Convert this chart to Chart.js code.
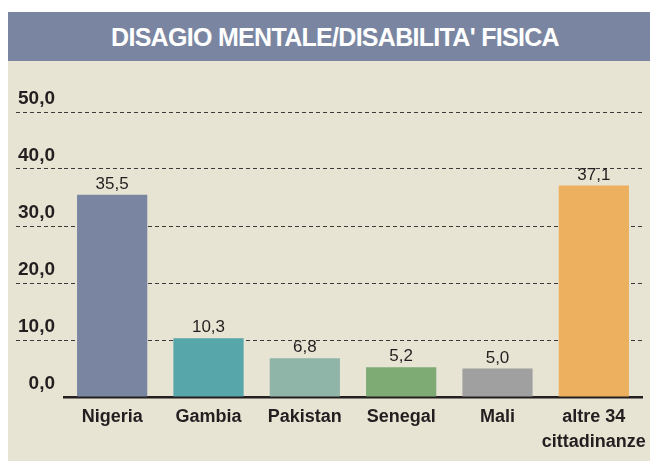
<!DOCTYPE html>
<html>
<head>
<meta charset="utf-8">
<script src="https://cdn.jsdelivr.net/npm/chart.js@4"></script>
<style>
  html, body { margin: 0; padding: 0; background: #ffffff; width: 650px; height: 461px; overflow: hidden; }
  #title {
    position: absolute; left: 8px; top: 12px; width: 642px; height: 49px;
    background: #7a86a1; color: #ffffff;
    font-family: "Liberation Sans", Arial, sans-serif; font-weight: bold; font-size: 25px;
    letter-spacing: -0.7px; line-height: 50px; text-align: center; box-sizing: border-box; padding-left: 12px;
  }
  #panel { position: absolute; left: 8px; top: 61px; width: 642px; height: 400px; background: #e8e4d3; }
  canvas { display: block; }
</style>
</head>
<body>
<div id="title">DISAGIO MENTALE/DISABILITA' FISICA</div>
<div id="panel"><canvas id="c" width="642" height="400"></canvas></div>
<script>
const categories = ["Nigeria", "Gambia", "Pakistan", "Senegal", "Mali", ["altre 34", "cittadinanze"]];
const values = [35.5, 10.3, 6.8, 5.2, 5.0, 37.1];
const yTicks = [0, 10, 20, 30, 40, 50];
const barColors = ["#7985a1", "#56a6aa", "#8fb4a8", "#7eab74", "#a0a0a0", "#ecb05e"];

const fmt = v => Number(v).toFixed(1).replace('.', ',');
const textColor = "#231f20";

const valueLabels = {
  id: 'valueLabels',
  afterDatasetsDraw(chart) {
    const ctx = chart.ctx;
    const meta = chart.getDatasetMeta(0);
    ctx.save();
    ctx.fillStyle = textColor;
    ctx.font = '17px "Liberation Sans", Arial, sans-serif';
    ctx.textAlign = 'center';
    ctx.textBaseline = 'alphabetic';
    meta.data.forEach((el, i) => {
      ctx.fillText(fmt(values[i]), el.x, el.y - 6);
    });
    ctx.restore();
  }
};

new Chart(document.getElementById('c'), {
  type: 'bar',
  data: {
    labels: categories,
    datasets: [{
      data: values,
      backgroundColor: barColors,
      borderWidth: 0,
      barPercentage: 0.729,
      categoryPercentage: 1
    }]
  },
  options: {
    responsive: false,
    animation: false,
    events: [],
    layout: { padding: { left: 8, right: 8, top: 51, bottom: 0 } },
    plugins: { legend: { display: false }, tooltip: { enabled: false }, title: { display: false } },
    scales: {
      x: {
        grid: { display: false, drawTicks: false },
        border: { display: true, color: textColor, width: 2.5 },
        ticks: {
          color: textColor,
          padding: 8,
          maxRotation: 0,
          autoSkip: false,
          font: { family: '"Liberation Sans", Arial, sans-serif', weight: 'bold', size: 18, lineHeight: 1.38 }
        },
        afterFit(scale) { scale.height = 64; scale.paddingLeft = 0; scale.paddingRight = 0; }
      },
      y: {
        min: 0,
        max: 50,
        afterBuildTicks(scale) { scale.ticks = yTicks.map(v => ({ value: v })); },
        grid: {
          color: '#3a3a3a',
          lineWidth: 1,
          drawTicks: true,
          tickLength: 48,
          tickBorderDash: [4, 3],
          tickColor: ctx => (ctx.tick && ctx.tick.value === 0) ? 'rgba(0,0,0,0)' : '#3a3a3a',
          tickWidth: 1
        },
        border: { display: false, dash: [4, 3] },
        ticks: {
          color: textColor,
          padding: -39,
          labelOffset: -13,
          crossAlign: 'near',
          font: { family: '"Liberation Sans", Arial, sans-serif', weight: 'bold', size: 19 },
          callback: v => fmt(v)
        },
        afterFit(scale) { scale.width = 48; scale.paddingTop = 0; scale.paddingBottom = 0; }
      }
    }
  },
  plugins: [valueLabels]
});
</script>
</body>
</html>
